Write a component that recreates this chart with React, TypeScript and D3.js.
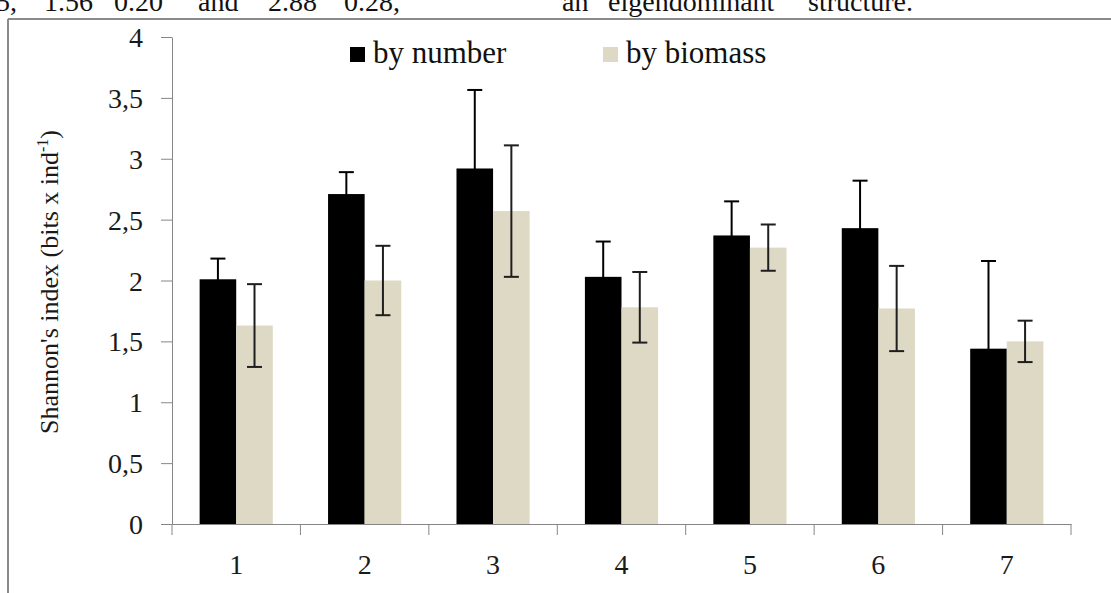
import React, { useEffect, useRef } from 'react';
import * as d3 from 'd3';

// values
const categories = ['1', '2', '3', '4', '5', '6', '7'];
const byNumber = [2.01, 2.71, 2.92, 2.03, 2.37, 2.43, 1.44];
const byNumberErr = [0.17, 0.18, 0.645, 0.29, 0.28, 0.39, 0.72];
const byBiomass = [1.63, 2.0, 2.57, 1.78, 2.27, 1.77, 1.5];
const byBiomassErr = [0.34, 0.285, 0.54, 0.29, 0.19, 0.35, 0.17];
const seriesNames = ['by number', 'by biomass'];
const seriesColors = ['#000000', '#DDD9C4'];
const errColors = ['#000000', '#1e1e1e'];
const yTicks = [0, 0.5, 1, 1.5, 2, 2.5, 3, 3.5, 4];
const topLineWords = ['5,', '1.56', '0.20', 'and', '2.88', '0.28,', 'an', 'eigendominant', 'structure.'];
const topLineX = [-4, 44, 114, 198, 268, 344, 562, 608, 808];

const W = 1111;
const H = 593;
const FONT = "'Liberation Serif', 'Times New Roman', serif";

export default function App() {
  const ref = useRef<SVGSVGElement>(null);

  useEffect(() => {
    const svg = d3.select(ref.current);
    svg.selectAll('*').remove();

    const left = 172, right = 1071, top = 37, bottom = 524;
    const axisColor = '#868686';

    // cut-off text line from the page above the chart
    const tl = svg.append('text')
      .attr('y', 11)
      .style('font-family', FONT)
      .attr('font-size', 28)
      .attr('fill', '#111');
    topLineWords.forEach((w, i) => {
      tl.append('tspan').attr('x', topLineX[i]).text(w);
    });

    // frame of the figure
    svg.append('line').attr('x1', 8).attr('x2', 8).attr('y1', 19).attr('y2', H)
      .attr('stroke', '#8a8a8a').attr('stroke-width', 2);
    svg.append('line').attr('x1', 8).attr('x2', W).attr('y1', 19).attr('y2', 19)
      .attr('stroke', '#8a8a8a').attr('stroke-width', 2);

    const y = d3.scaleLinear().domain([0, 4]).range([bottom, top]);
    const x0 = d3.scaleBand<string>().domain(categories).range([left, right]).padding(0);
    const x1 = d3.scaleBand<string>().domain(seriesNames).range([0, x0.bandwidth()])
      .paddingInner(0).paddingOuter(0.755);

    // y axis
    const yAxis = svg.append('g')
      .attr('transform', `translate(${left},0)`)
      .call(d3.axisLeft(y).tickValues(yTicks).tickSize(11).tickSizeOuter(0).tickPadding(18)
        .tickFormat(d => String(d).replace('.', ',')));
    yAxis.select('.domain').attr('stroke', axisColor);
    yAxis.selectAll('.tick line').attr('stroke', axisColor);
    yAxis.selectAll('.tick text')
      .style('font-family', FONT).attr('font-size', 28).attr('fill', '#1a1a1a').attr('dy', '0.34em');

    // x axis: labels centred, ticks on band edges
    const xAxis = svg.append('g')
      .attr('transform', `translate(0,${bottom})`)
      .call(d3.axisBottom(x0).tickSize(0).tickSizeOuter(0).tickPadding(30));
    xAxis.select('.domain').attr('stroke', axisColor);
    xAxis.selectAll('.tick text')
      .style('font-family', FONT).attr('font-size', 28).attr('fill', '#1a1a1a');
    const edges = categories.map(c => x0(c) as number).concat([right]);
    svg.append('g').selectAll('line').data(edges).enter().append('line')
      .attr('x1', d => d).attr('x2', d => d)
      .attr('y1', bottom).attr('y2', bottom + 11)
      .attr('stroke', axisColor);

    const series = seriesNames.map((name, k) => ({
      name,
      values: k === 0 ? byNumber : byBiomass,
      errs: k === 0 ? byNumberErr : byBiomassErr,
      color: seriesColors[k],
      errColor: errColors[k],
    }));

    series.forEach(s => {
      const g = svg.append('g');
      g.selectAll('rect').data(categories).enter().append('rect')
        .attr('x', c => (x0(c) as number) + (x1(s.name) as number))
        .attr('width', x1.bandwidth())
        .attr('y', (c, i) => y(s.values[i]))
        .attr('height', (c, i) => bottom - y(s.values[i]))
        .attr('fill', s.color);

      const eb = svg.append('g').attr('stroke', s.errColor).attr('stroke-width', 2);
      categories.forEach((c, i) => {
        const cx = (x0(c) as number) + (x1(s.name) as number) + x1.bandwidth() / 2;
        const hi = y(s.values[i] + s.errs[i]);
        const lo = y(s.values[i] - s.errs[i]);
        eb.append('line').attr('x1', cx).attr('x2', cx).attr('y1', hi).attr('y2', lo);
        eb.append('line').attr('x1', cx - 7.5).attr('x2', cx + 7.5).attr('y1', hi).attr('y2', hi);
        eb.append('line').attr('x1', cx - 7.5).attr('x2', cx + 7.5).attr('y1', lo).attr('y2', lo);
      });
    });

    // legend
    const legendX = [350, 603];
    series.forEach((s, i) => {
      svg.append('rect').attr('x', legendX[i]).attr('y', 47).attr('width', 15).attr('height', 15)
        .attr('fill', s.color);
      svg.append('text').attr('x', legendX[i] + 23).attr('y', 63)
        .style('font-family', FONT).attr('font-size', 31).attr('fill', '#111')
        .text(s.name);
    });

    // y label
    const yl = svg.append('text')
      .attr('transform', `translate(58,282) rotate(-90)`)
      .attr('text-anchor', 'middle')
      .style('font-family', FONT).attr('font-size', 26).attr('fill', '#1a1a1a');
    yl.append('tspan').text("Shannon's index (bits x ind");
    yl.append('tspan').attr('font-size', 16).attr('dy', -10).text('-1');
    yl.append('tspan').attr('dy', 10).text(')');
  }, []);

  return (
    <svg ref={ref} width={W} height={H}
      style={{ position: 'absolute', left: 0, top: 0, background: '#fff' }} />
  );
}
